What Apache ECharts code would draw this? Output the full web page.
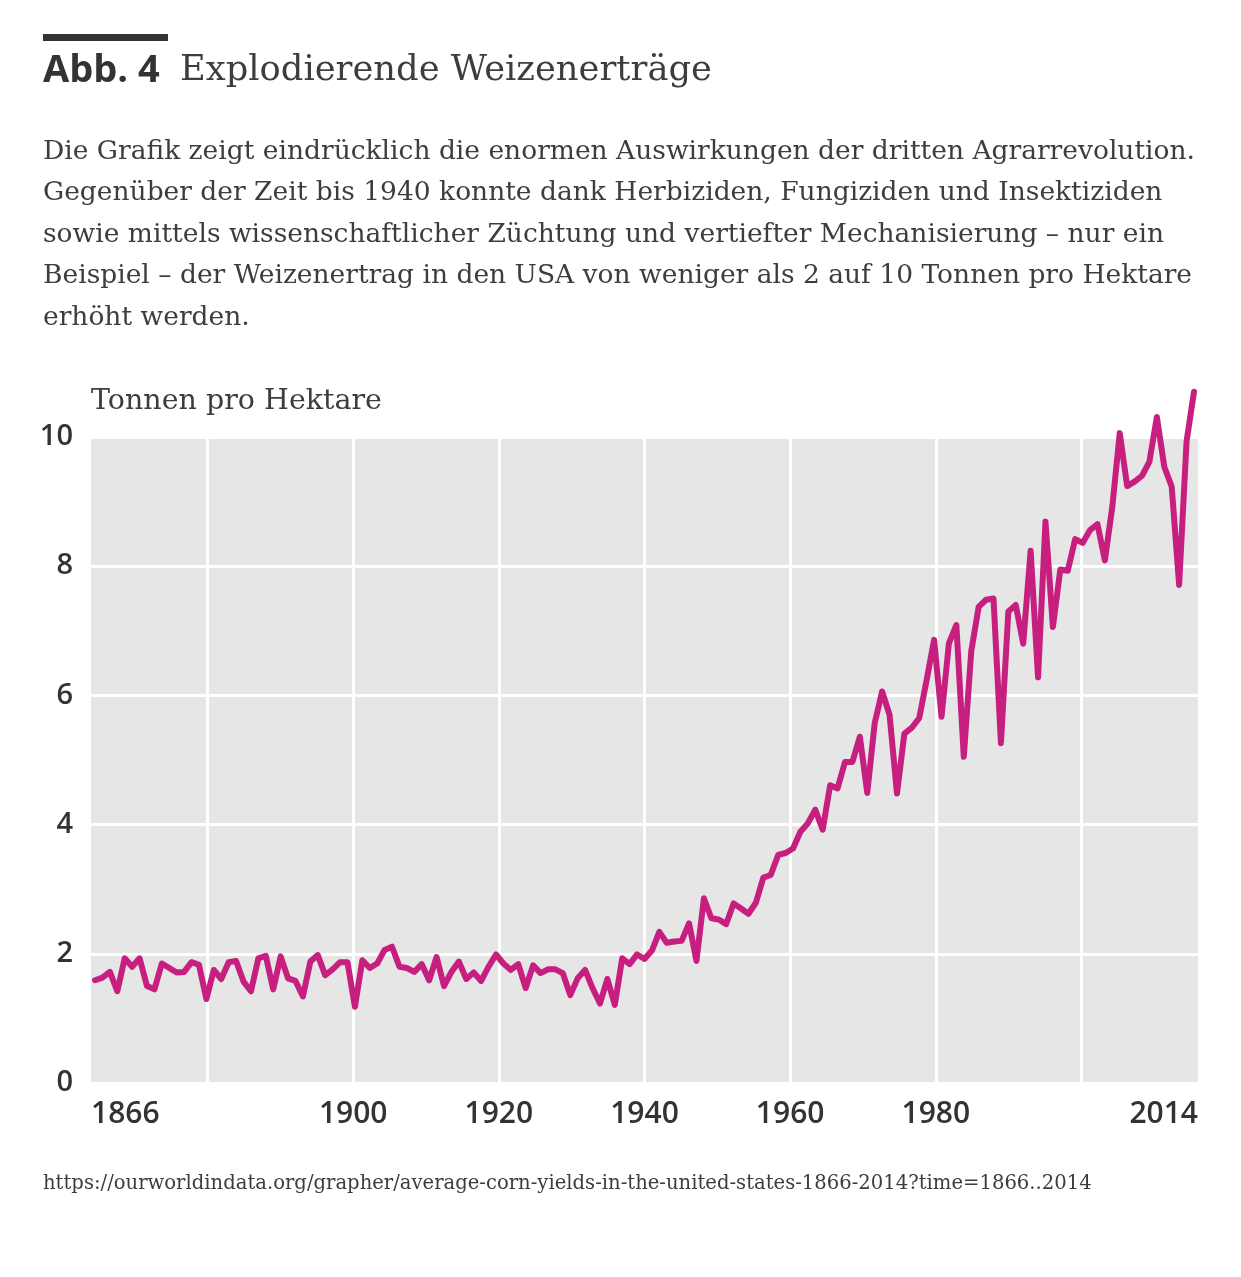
<!DOCTYPE html>
<html>
<head>
<meta charset="utf-8">
<script src="https://cdn.jsdelivr.net/npm/echarts@6/dist/echarts.min.js"></script>
<style>
html,body{margin:0;padding:0;background:#fff;}
#chart{width:1241px;height:1277px;}
</style>
</head>
<body>
<div id="chart"></div>
<script>
// ---- data ----
const firstYear = 1866;
const yields = [
  1.59, 1.63, 1.72, 1.42, 1.93, 1.80, 1.93, 1.50, 1.45, 1.85,
  1.78, 1.71, 1.72, 1.87, 1.83, 1.30, 1.75, 1.61, 1.87, 1.89,
  1.57, 1.42, 1.93, 1.97, 1.45, 1.96, 1.62, 1.58, 1.34, 1.88,
  1.98, 1.67, 1.76, 1.87, 1.87, 1.18, 1.90, 1.78, 1.85, 2.06,
  2.11, 1.80, 1.78, 1.72, 1.84, 1.59, 1.95, 1.50, 1.72, 1.88,
  1.61, 1.71, 1.58, 1.80, 1.99, 1.85, 1.75, 1.84, 1.47, 1.82,
  1.70, 1.76, 1.76, 1.70, 1.36, 1.62, 1.75, 1.47, 1.23, 1.61,
  1.21, 1.93, 1.84, 1.99, 1.92, 2.05, 2.34, 2.17, 2.19, 2.20,
  2.47, 1.89, 2.86, 2.55, 2.53, 2.46, 2.78, 2.70, 2.62, 2.79,
  3.18, 3.22, 3.53, 3.56, 3.63, 3.89, 4.02, 4.23, 3.92, 4.61,
  4.56, 4.97, 4.97, 5.36, 4.49, 5.57, 6.06, 5.70, 4.48, 5.41,
  5.50, 5.65, 6.24, 6.86, 5.67, 6.81, 7.09, 5.05, 6.68, 7.37,
  7.48, 7.50, 5.26, 7.30, 7.40, 6.80, 8.24, 6.28, 8.69, 7.06,
  7.95, 7.93, 8.42, 8.36, 8.56, 8.65, 8.09, 8.92, 10.06, 9.24,
  9.31, 9.40, 9.62, 10.31, 9.54, 9.23, 7.71, 9.93, 10.70
];
const years = yields.map((_, i) => firstYear + i);
const xGridYears = [1880, 1900, 1920, 1940, 1960, 1980, 2000];
const xTickLabels = ['1866', '1900', '1920', '1940', '1960', '1980', '2014'];

const titleBold = 'Abb. 4';
const titleText = 'Explodierende Weizenerträge';
const introLines = [
  'Die Grafik zeigt eindrücklich die enormen Auswirkungen der dritten Agrarrevolution.',
  'Gegenüber der Zeit bis 1940 konnte dank Herbiziden, Fungiziden und Insektiziden',
  'sowie mittels wissenschaftlicher Züchtung und vertiefter Mechanisierung – nur ein',
  'Beispiel – der Weizenertrag in den USA von weniger als 2 auf 10 Tonnen pro Hektare',
  'erhöht werden.'
];
const yAxisTitle = 'Tonnen pro Hektare';
const sourceText = 'https://ourworldindata.org/grapher/average-corn-yields-in-the-united-states-1866-2014?time=1866..2014';

// ---- chart ----
const AX_MIN = 1864, AX_MAX = 2016;
const labelValues = xTickLabels.map((t, i) =>
  i === 0 ? AX_MIN : (i === xTickLabels.length - 1 ? AX_MAX : Number(t)));

const serif = '"DejaVu Serif", serif';
const sans = '"Open Sans", sans-serif';
const textColor = '#333333';
const bodyColor = '#3d3d3d';

const chart = echarts.init(document.getElementById('chart'), null, {renderer: 'canvas'});
chart.setOption({
  backgroundColor: '#ffffff',
  animation: false,
  grid: {
    left: 91, right: 43, top: 437, bottom: 194,
    show: true, backgroundColor: '#e6e6e6', borderWidth: 0
  },
  xAxis: [
    {
      type: 'value', min: AX_MIN, max: AX_MAX,
      axisLine: {show: false},
      axisTick: {show: false, customValues: xGridYears},
      splitLine: {show: true, lineStyle: {color: '#ffffff', width: 3}},
      axisLabel: {
        customValues: labelValues,
        formatter: (v) => xTickLabels[labelValues.indexOf(v)],
        alignMinLabel: 'left', alignMaxLabel: 'right',
        margin: 16, color: textColor,
        fontFamily: sans, fontSize: 30, fontWeight: 600
      }
    },
    {
      type: 'value', min: 1865.46, max: 2014.54, show: false
    }
  ],
  yAxis: {
    type: 'value', min: 0, max: 10, interval: 2,
    axisLine: {show: false}, axisTick: {show: false},
    splitLine: {show: true, lineStyle: {color: '#ffffff', width: 3}},
    axisLabel: {
      margin: 18, color: textColor,
      fontFamily: sans, fontSize: 29, fontWeight: 600
    },
    name: yAxisTitle, nameLocation: 'end', nameGap: 35,
    nameTextStyle: {
      align: 'left', verticalAlign: 'middle',
      fontFamily: serif, fontSize: 28.5, color: bodyColor
    }
  },
  series: [{
    type: 'line',
    xAxisIndex: 1,
    data: years.map((y, i) => [y, yields[i]]),
    showSymbol: false, symbol: 'none',
    clip: false,
    lineStyle: {color: '#c71f80', width: 6, join: 'round', cap: 'round'}
  }],
  graphic: [
    {type: 'rect', shape: {x: 43, y: 34, width: 125, height: 7}, style: {fill: '#333333'}},
    {type: 'text', x: 43, y: 71, style: {text: titleBold, font: '700 38px ' + sans, fill: textColor, verticalAlign: 'middle'}},
    {type: 'text', x: 180, y: 71, style: {text: titleText, font: '35.3px ' + serif, fill: bodyColor, verticalAlign: 'middle'}},
    {type: 'text', x: 43, y: 131, style: {text: introLines.join('\n'), font: '26.5px ' + serif, lineHeight: 41.6, fill: bodyColor, verticalAlign: 'top'}},
    {type: 'text', x: 43, y: 1184, style: {text: sourceText, font: '19.6px ' + serif, fill: bodyColor, verticalAlign: 'middle'}}
  ]
});
</script>
</body>
</html>
